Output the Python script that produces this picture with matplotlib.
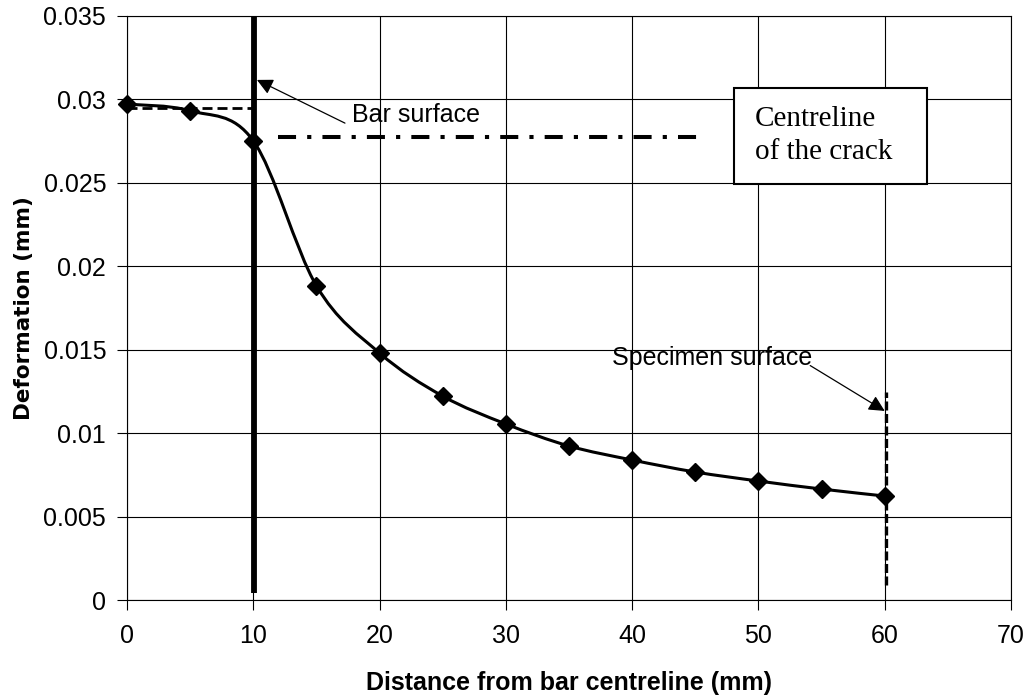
import numpy as np
import matplotlib
matplotlib.use("Agg")
import matplotlib.pyplot as plt
from matplotlib.path import Path
from matplotlib.patches import PathPatch, Rectangle

# ---- data ----
distance_mm = [0, 5, 10, 15, 20, 25, 30, 35, 40, 45, 50, 55, 60]
deformation_mm = [0.02972, 0.02932, 0.02752, 0.01883, 0.01480, 0.01222, 0.01055,
                  0.00923, 0.00839, 0.00767, 0.00713, 0.00665, 0.00623]

x_ticks = [0, 10, 20, 30, 40, 50, 60, 70]
x_tick_labels = ["0", "10", "20", "30", "40", "50", "60", "70"]
y_ticks = [0, 0.005, 0.01, 0.015, 0.02, 0.025, 0.03, 0.035]
y_tick_labels = ["0", "0.005", "0.01", "0.015", "0.02", "0.025", "0.03", "0.035"]

bar_surface_x = 10.05
bar_line_y = [0.0004, 0.035]
bar_top_dash_y = 0.02948
bar_top_dash_x = [0, 10]
specimen_surface_x = 60.07
specimen_line_y = [0.0009, 0.01246]
centreline_y = 0.02774
centreline_x = [11.96, 45.9]

plt.rcParams["lines.scale_dashes"] = False
SANS = ["Liberation Sans", "DejaVu Sans"]
SERIF = ["Liberation Serif", "DejaVu Serif"]

fig = plt.figure(figsize=(10.29, 6.98), dpi=100)
ax = fig.add_axes([127 / 1029, 98 / 698, 884 / 1029, 584 / 698])

ax.set_xlim(0, 70)
ax.set_ylim(0, 0.035)
ax.set_xticks(x_ticks)
ax.set_xticklabels(x_tick_labels, family=SANS, fontsize=18)
ax.set_yticks(y_ticks)
ax.set_yticklabels(y_tick_labels, family=SANS, fontsize=18)
ax.tick_params(axis="both", direction="out", length=7, width=0.8, color="black")
ax.tick_params(axis="x", pad=10)
ax.tick_params(axis="y", pad=8)
ax.grid(True, color="black", linewidth=0.8)
ax.set_axisbelow(True)
for s in ax.spines.values():
    s.set_linewidth(0.8)
    s.set_color("black")

ax.set_xlabel("Distance from bar centreline (mm)", family=SANS, fontsize=18,
              fontweight="bold", labelpad=17)
ax.set_ylabel("Deformation (mm)", family=["DejaVu Sans"], fontsize=15.5,
              fontweight="bold", labelpad=7)

# ---- smoothed (Excel-like Catmull-Rom Bezier) curve through the data ----
pts = np.column_stack([distance_mm, deformation_mm])
n = len(pts)
verts = [pts[0]]
codes = [Path.MOVETO]
for i in range(n - 1):
    p0 = pts[i - 1] if i > 0 else pts[i]
    p1 = pts[i]
    p2 = pts[i + 1]
    p3 = pts[i + 2] if i + 2 < n else pts[i + 1]
    c1 = p1 + (p2 - p0) / 6.0
    c2 = p2 - (p3 - p1) / 6.0
    verts += [c1, c2, p2]
    codes += [Path.CURVE4] * 3
ax.add_patch(PathPatch(Path(verts, codes), fill=False, lw=2.2,
                       edgecolor="black", zorder=4))
ax.plot(distance_mm, deformation_mm, linestyle="none", marker="D", ms=9,
        color="black", zorder=5, clip_on=False)

# ---- bar surface (thick vertical) ----
ax.plot([bar_surface_x, bar_surface_x], bar_line_y, color="black", lw=4.2,
        solid_capstyle="butt", zorder=3, clip_on=False)
ax.plot(bar_top_dash_x, [bar_top_dash_y] * 2, color="black", lw=2.0,
        dashes=(7.2, 3.6), zorder=3)

# ---- specimen surface (dashed vertical) ----
ax.plot([specimen_surface_x] * 2, specimen_line_y, color="black", lw=2.4,
        dashes=(6.5, 2.5), zorder=3)

# ---- centreline of crack (dash-dot) ----
ax.plot(centreline_x, [centreline_y] * 2, color="black", lw=2.9,
        dashes=(13, 8, 3, 8), zorder=3)

# ---- annotations ----
ax.annotate("", xy=(10.29, 0.03117), xytext=(17.26, 0.02858),
            arrowprops=dict(arrowstyle="-|>", color="black", lw=0.9,
                            mutation_scale=24, shrinkA=0, shrinkB=0), zorder=6)
ax.text(17.8, 0.02906, "Bar surface", family=SANS, fontsize=18,
        ha="left", va="center", zorder=6)

ax.annotate("", xy=(60.0, 0.01133), xytext=(54.1, 0.01405),
            arrowprops=dict(arrowstyle="-|>", color="black", lw=0.9,
                            mutation_scale=24, shrinkA=0, shrinkB=0), zorder=6)
ax.text(38.4, 0.01452, "Specimen surface", family=SANS, fontsize=18,
        ha="left", va="center", zorder=6)

ax.add_patch(Rectangle((48.06, 0.02493), 15.28, 0.00575, facecolor="white",
                       edgecolor="black", lw=1.5, zorder=6))
ax.text(49.72, 0.0284, "Centreline", family=SERIF, fontsize=21,
        ha="left", va="baseline", zorder=7)
ax.text(49.72, 0.02642, "of the crack", family=SERIF, fontsize=21,
        ha="left", va="baseline", zorder=7)

fig.savefig("out.png", dpi=100)
